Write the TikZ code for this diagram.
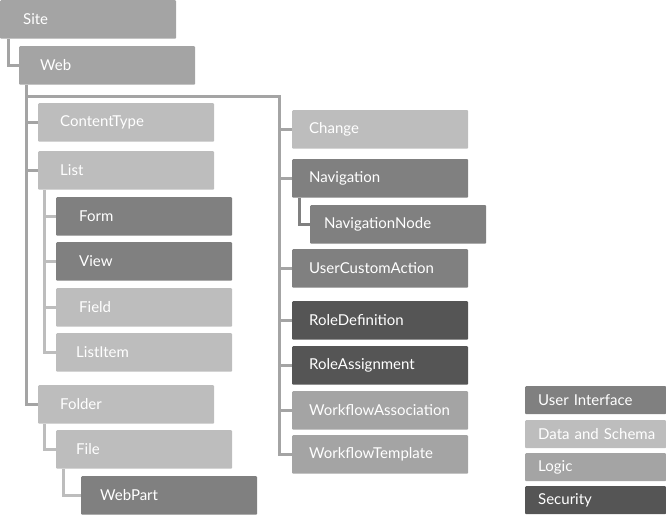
\documentclass[tikz,border=0pt]{standalone}
\usepackage{fontspec}
\setmainfont{Lato}
\definecolor{uicol}{HTML}{808080}
\definecolor{datacol}{HTML}{BDBDBD}
\definecolor{logiccol}{HTML}{A4A4A4}
\definecolor{seccol}{HTML}{555555}
\pgfkeys{/tikz/indent/.store in=\boxind}
\begin{document}
\begin{tikzpicture}[x=1pt, y=-1pt, every node/.style={font=\fontsize{15}{18}\selectfont, text=white}, indent=21pt,
	box/.style={fill=#1, rounded corners=1pt, anchor=north west, minimum height=38.5pt, text width=176pt, inner xsep=0pt, align=left, execute at begin node={\hspace*{\boxind}}},
	key/.style={box=#1, minimum height=28pt, text width=141pt, indent=13pt},
	link/.style={draw=#1, line width=3pt}]
	\useasboundingbox (0,0) rectangle (666,515);
	% left column
	\node[box=logiccol, indent=23pt] (site) at (0,0) {Site};
	\node[box=logiccol] (web) at (19,46) {Web};
	\node[box=datacol, indent=22pt] (contenttype) at (38,103) {ContentType};
	\node[box=datacol, indent=22pt] (list) at (38,151) {List};
	\node[box=uicol, indent=23pt] (form) at (56,197) {Form};
	\node[box=uicol, indent=23pt] (view) at (56,242) {View};
	\node[box=datacol, indent=23pt] (field) at (56,288) {Field};
	\node[box=datacol, indent=20pt] (listitem) at (56,333) {ListItem};
	\node[box=datacol, indent=22pt] (folder) at (38,385) {Folder};
	\node[box=datacol, indent=20pt] (file) at (56,430) {File};
	\node[box=uicol, indent=19pt] (webpart) at (81,476) {WebPart};
	% right column
	\node[box=datacol, indent=17pt] (change) at (292,110) {Change};
	\node[box=uicol, indent=17pt] (navigation) at (292,159) {Navigation};
	\node[box=uicol, indent=14pt] (navnode) at (310,205) {NavigationNode};
	\node[box=uicol, indent=17pt] (customaction) at (292,249) {UserCustomAction};
	\node[box=seccol, indent=17pt] (roledef) at (292,301) {RoleDefinition};
	\node[box=seccol, indent=17pt] (roleassign) at (292,346) {RoleAssignment};
	\node[box=logiccol, indent=17pt] (wfassoc) at (292,391) {WorkflowAssociation};
	\node[box=logiccol, indent=17pt] (wftemplate) at (292,435) {WorkflowTemplate};
	% legend
	\node[key=uicol] (keyui) at (525,386) {User Interface};
	\node[key=datacol] (keydata) at (525,420) {Data and Schema};
	\node[key=logiccol] (keylogic) at (525,453) {Logic};
	\node[key=seccol] (keysec) at (525,486) {Security};
	% connectors
	\draw[link=logiccol] ([xshift=8pt]site.south west) |- (web.west);
	\coordinate (webtrunk) at ([xshift=7pt]web.south west);
	\coordinate (righttrunk) at (279,96);
	\draw[link=logiccol] (webtrunk) |- (folder.west);
	\draw[link=logiccol] (webtrunk |- righttrunk) -- (righttrunk) |- (wftemplate.west);
	\foreach \c in {contenttype, list} {\draw[link=logiccol] (\c.west -| webtrunk) -- (\c.west);}
	\foreach \c in {change, navigation, customaction, roledef, roleassign, wfassoc} {\draw[link=logiccol] (\c.west -| righttrunk) -- (\c.west);}
	\coordinate (listtrunk) at ([xshift=6pt]list.south west);
	\draw[link=datacol] (listtrunk) |- (listitem.west);
	\foreach \c in {form, view, field} {\draw[link=datacol] (\c.west -| listtrunk) -- (\c.west);}
	\draw[link=datacol] ([xshift=6pt]folder.south west) |- (file.west);
	\draw[link=datacol] ([xshift=7pt]file.south west) |- (webpart.west);
	\draw[link=uicol] ([xshift=7pt]navigation.south west) |- (navnode.west);
\end{tikzpicture}
\end{document}
